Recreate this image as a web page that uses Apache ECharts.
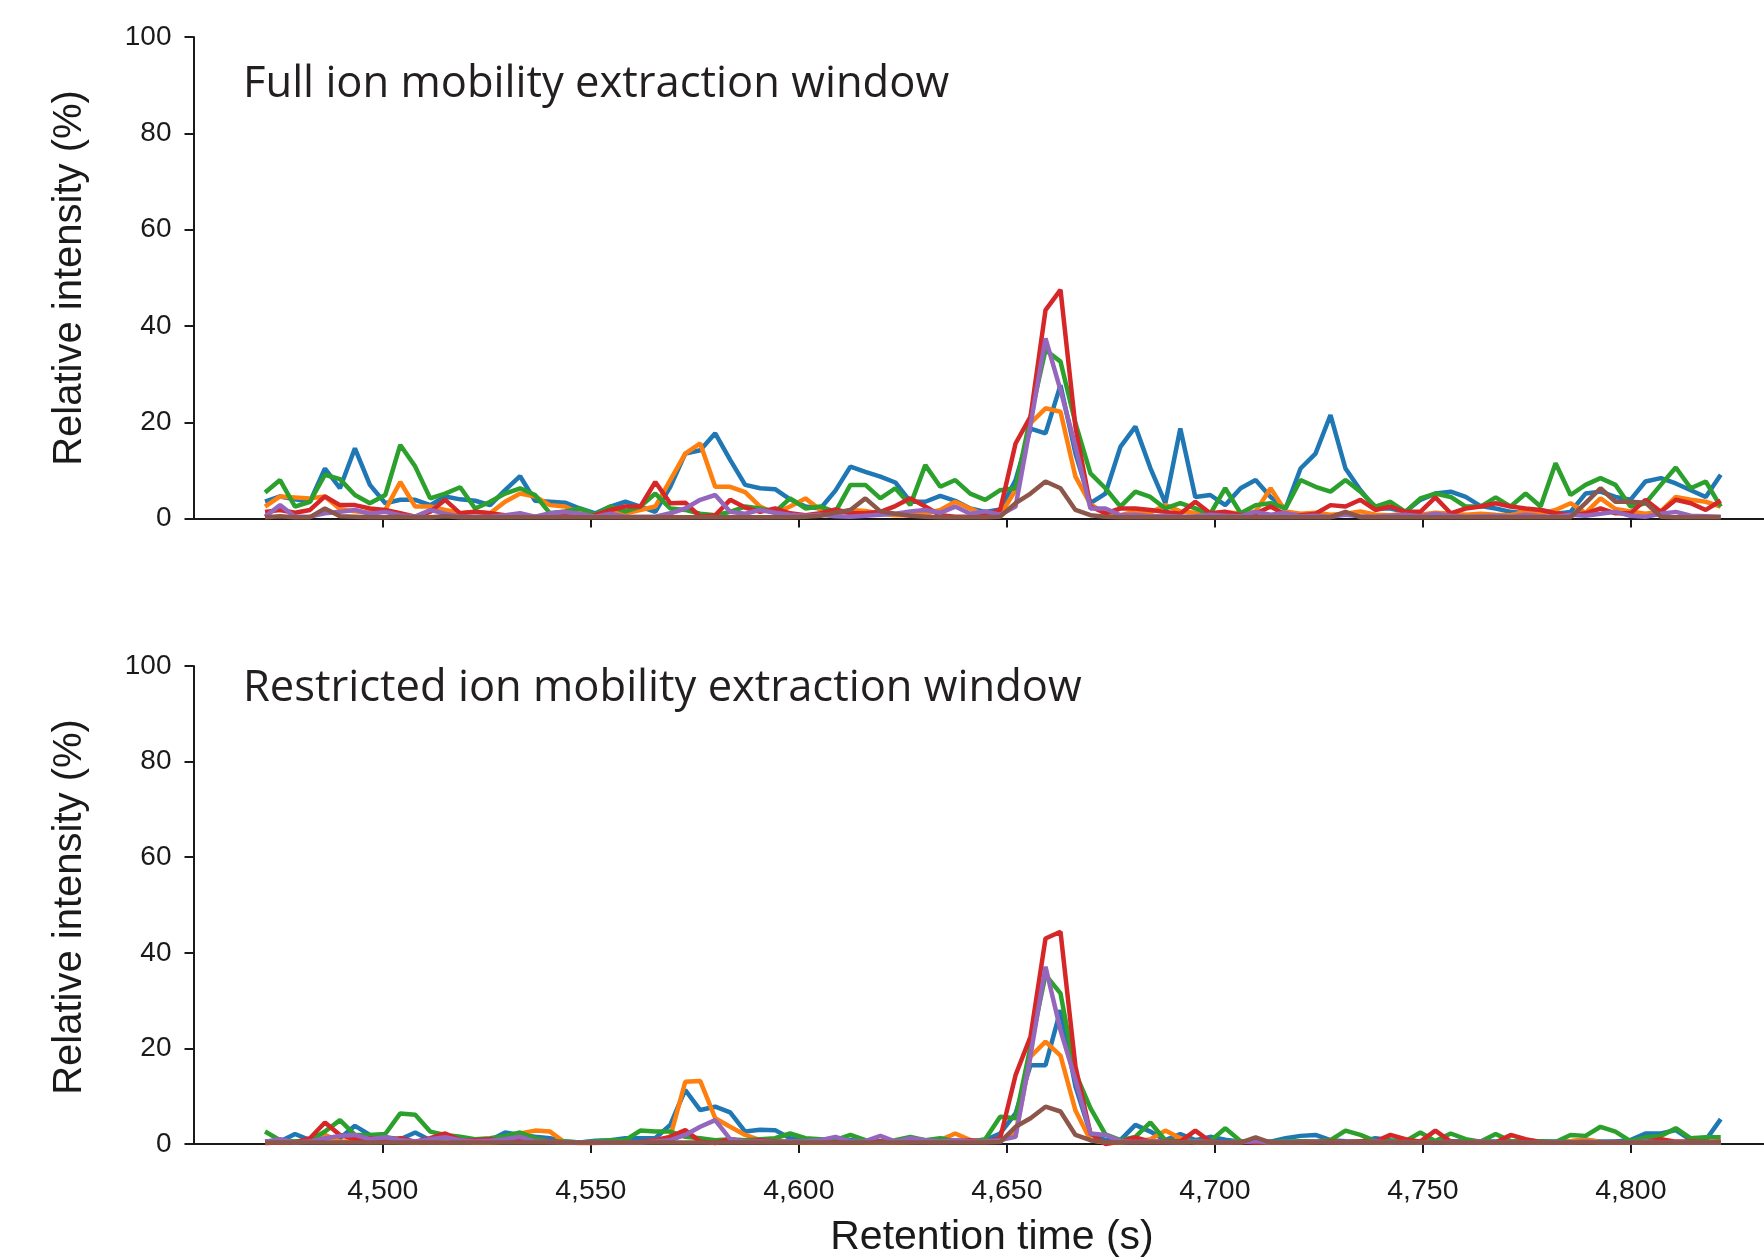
<!DOCTYPE html>
<html>
<head>
	<meta charset="utf-8">
	<title>Extraction window</title>
	<script src="https://cdn.jsdelivr.net/npm/echarts@6/dist/echarts.min.js"></script>
	<style>
		html, body { margin: 0; padding: 0; background: #fff; }
		#main { width: 1764px; height: 1260px; }
	</style>
</head>
<body>
<div id="main"></div>
<script>
// retention time of every scan (s)
var times = [4471.7, 4475.3, 4478.9, 4482.5, 4486.1, 4489.7, 4493.3, 4496.9, 4500.6, 4504.2,
	4507.8, 4511.4, 4515.0, 4518.6, 4522.2, 4525.8, 4529.4, 4533.0, 4536.6, 4540.2,
	4543.8, 4547.4, 4551.1, 4554.7, 4558.3, 4561.9, 4565.5, 4569.1, 4572.7, 4576.3,
	4579.9, 4583.5, 4587.1, 4590.7, 4594.3, 4597.9, 4601.6, 4605.2, 4608.8, 4612.4,
	4616.0, 4619.6, 4623.2, 4626.8, 4630.4, 4634.0, 4637.6, 4641.2, 4644.8, 4648.4,
	4652.1, 4655.7, 4659.3, 4662.9, 4666.5, 4670.1, 4673.7, 4677.3, 4680.9, 4684.5,
	4688.1, 4691.7, 4695.3, 4698.9, 4702.5, 4706.2, 4709.8, 4713.4, 4717.0, 4720.6,
	4724.2, 4727.8, 4731.4, 4735.0, 4738.6, 4742.2, 4745.8, 4749.4, 4753.0, 4756.7,
	4760.3, 4763.9, 4767.5, 4771.1, 4774.7, 4778.3, 4781.9, 4785.5, 4789.1, 4792.7,
	4796.3, 4799.9, 4803.5, 4807.2, 4810.8, 4814.4, 4818.0, 4821.6];

var xTicks = [4500, 4550, 4600, 4650, 4700, 4750, 4800];
var yTicks = [0, 20, 40, 60, 80, 100];
var colors = ['#1f77b4', '#ff7f0e', '#2ca02c', '#d62728', '#9467bd', '#8c564b'];

// full ion mobility extraction window
var fullBlue = [3.5, 4.6, 4.0, 3.5, 10.4, 6.3, 14.6, 7.0, 3.2, 3.9,
	3.9, 2.8, 4.6, 4.0, 3.7, 2.8, 5.9, 8.8, 3.7, 3.5,
	3.3, 2.1, 1.1, 2.5, 3.5, 2.5, 1.4, 6.6, 13.5, 14.2,
	17.7, 12.2, 7.0, 6.3, 6.1, 4.0, 2.5, 2.1, 5.8, 10.8,
	9.7, 8.7, 7.5, 3.5, 3.5, 4.7, 3.7, 2.1, 1.4, 1.9,
	8.0, 18.7, 17.7, 27.7, 13.5, 3.2, 5.2, 14.9, 19.1, 10.5,
	3.2, 18.7, 4.5, 4.9, 2.8, 6.3, 8.0, 4.5, 2.1, 10.4,
	13.5, 21.5, 10.4, 5.9, 2.1, 2.1, 1.4, 3.9, 5.2, 5.6,
	4.5, 2.6, 2.1, 1.4, 1.1, 1.8, 1.0, 1.4, 5.2, 5.6,
	4.5, 3.9, 7.7, 8.4, 7.3, 5.9, 4.5, 9.1];
var fullOrange = [2.5, 4.6, 4.4, 4.2, 4.6, 2.0, 1.5, 1.2, 1.8, 7.6,
	2.5, 2.5, 1.8, 1.1, 1.4, 1.1, 3.5, 5.2, 4.6, 2.8,
	2.5, 1.1, 0.7, 1.4, 1.1, 1.8, 2.5, 8.0, 13.5, 15.6,
	6.6, 6.6, 5.5, 2.5, 1.1, 2.5, 4.2, 1.8, 0.8, 1.8,
	1.6, 1.0, 0.7, 0.7, 1.0, 1.8, 3.5, 2.1, 0.7, 0.7,
	5.9, 19.8, 22.9, 22.2, 8.7, 3.0, 1.0, 0.7, 1.5, 1.2,
	2.8, 1.5, 1.2, 1.0, 1.4, 1.0, 1.5, 6.3, 1.5, 1.0,
	1.2, 0.8, 1.0, 1.5, 0.8, 0.7, 1.0, 0.8, 1.2, 1.0,
	0.8, 1.0, 0.8, 0.7, 1.5, 1.0, 1.8, 3.2, 1.2, 4.2,
	2.0, 1.5, 1.0, 1.5, 4.5, 3.9, 3.5, 2.5];
var fullGreen = [5.4, 8.0, 2.5, 3.5, 9.1, 8.2, 4.9, 3.2, 4.9, 15.3,
	10.8, 4.2, 5.2, 6.5, 2.1, 3.5, 5.2, 6.3, 4.9, 1.1,
	1.5, 2.1, 0.8, 2.5, 1.5, 2.5, 5.2, 2.1, 1.8, 1.0,
	0.7, 1.4, 2.5, 2.1, 1.4, 4.2, 2.1, 2.5, 1.4, 7.0,
	7.0, 4.2, 6.3, 2.8, 11.1, 6.6, 8.0, 5.2, 3.9, 5.9,
	6.3, 21.2, 35.0, 32.6, 19.8, 9.4, 6.3, 2.5, 5.6, 4.5,
	2.1, 3.2, 2.1, 1.0, 6.3, 1.1, 2.8, 3.2, 2.1, 8.0,
	6.6, 5.6, 8.0, 5.6, 2.5, 3.5, 1.4, 4.2, 5.2, 4.5,
	2.5, 2.5, 4.4, 2.5, 5.2, 2.5, 11.5, 4.9, 7.0, 8.4,
	7.0, 2.5, 3.2, 7.0, 10.6, 6.3, 7.7, 2.5];
var fullRed = [1.4, 1.8, 1.2, 1.8, 4.6, 2.8, 2.8, 2.1, 1.8, 1.1,
	0.4, 1.4, 3.9, 1.1, 1.4, 1.1, 0.7, 0.4, 0.4, 0.4,
	0.5, 0.4, 0.7, 1.8, 2.5, 2.5, 7.6, 3.2, 3.3, 0.4,
	0.7, 3.9, 2.3, 1.4, 2.1, 1.1, 0.7, 1.1, 1.9, 1.1,
	1.1, 1.4, 2.6, 4.2, 2.5, 0.7, 0.4, 0.4, 0.7, 1.8,
	15.6, 21.2, 43.3, 47.5, 19.0, 2.5, 1.1, 2.1, 2.1, 1.8,
	1.4, 1.0, 3.5, 1.1, 1.4, 0.7, 1.0, 2.5, 0.8, 0.7,
	1.0, 2.8, 2.5, 3.9, 1.8, 2.5, 1.4, 1.4, 4.4, 1.1,
	2.1, 2.5, 3.2, 2.5, 2.1, 1.8, 1.1, 0.7, 1.1, 2.1,
	1.1, 1.1, 3.9, 1.4, 3.9, 3.2, 1.8, 3.7];
var fullPurple = [0.4, 2.8, 0.4, 0.4, 1.1, 1.4, 1.8, 1.0, 1.4, 0.7,
	0.4, 1.8, 1.0, 0.4, 0.4, 0.4, 0.7, 1.1, 0.4, 1.1,
	1.4, 1.0, 0.4, 1.0, 0.4, 0.4, 0.4, 1.1, 2.1, 3.9,
	4.9, 1.4, 1.0, 1.8, 1.2, 0.8, 0.6, 0.8, 0.5, 0.4,
	0.6, 0.8, 1.0, 1.5, 1.8, 1.2, 2.5, 1.0, 1.5, 0.8,
	2.5, 19.5, 37.4, 26.7, 15.0, 2.1, 2.1, 0.7, 0.8, 0.5,
	0.6, 0.4, 0.5, 0.8, 0.6, 0.5, 1.4, 0.8, 1.2, 0.5,
	0.6, 0.4, 0.8, 0.5, 0.4, 0.6, 0.8, 0.5, 1.0, 0.6,
	0.4, 0.5, 0.6, 0.4, 0.8, 0.5, 0.4, 0.8, 0.6, 1.0,
	1.4, 0.6, 0.4, 1.0, 1.4, 0.6, 0.5, 0.4];
var fullBrown = [0.3, 0.5, 0.3, 0.3, 2.1, 0.5, 0.4, 0.3, 0.3, 0.4,
	0.3, 0.3, 0.5, 0.3, 0.3, 0.3, 0.3, 0.3, 0.3, 0.3,
	0.3, 0.3, 0.3, 0.3, 0.3, 0.3, 0.3, 0.3, 0.3, 0.3,
	0.3, 0.3, 0.3, 0.3, 0.3, 0.3, 0.4, 0.6, 1.2, 1.8,
	4.2, 1.5, 1.0, 0.6, 0.4, 0.3, 0.3, 0.3, 0.3, 0.4,
	3.2, 5.2, 7.7, 6.3, 1.8, 0.7, 0.4, 0.3, 0.3, 0.3,
	0.3, 0.3, 0.3, 0.3, 0.3, 0.3, 0.3, 0.3, 0.3, 0.3,
	0.3, 0.3, 1.4, 0.3, 0.3, 0.3, 0.3, 0.3, 0.3, 0.3,
	0.3, 0.3, 0.3, 0.3, 0.3, 0.3, 0.3, 0.3, 3.2, 6.3,
	3.5, 3.5, 3.3, 0.4, 0.3, 0.3, 0.3, 0.3];

// restricted ion mobility extraction window
var resBlue = [0.5, 0.5, 2.1, 0.8, 1.2, 1.2, 3.8, 1.9, 1.4, 1.0,
	2.4, 0.8, 1.4, 1.2, 0.8, 0.8, 2.4, 1.9, 1.5, 1.2,
	0.5, 0.3, 0.7, 0.8, 1.2, 1.2, 1.2, 4.0, 11.3, 7.1,
	7.8, 6.6, 2.6, 3.0, 2.9, 1.2, 0.9, 0.8, 0.6, 0.8,
	0.7, 0.6, 0.6, 0.8, 0.6, 0.6, 0.8, 0.5, 0.8, 2.2,
	6.4, 16.5, 16.5, 28.0, 12.0, 2.2, 0.8, 0.8, 4.0, 2.6,
	0.8, 2.1, 0.8, 1.5, 0.9, 0.5, 0.5, 0.5, 1.2, 1.7,
	1.9, 0.8, 0.6, 0.5, 1.2, 0.8, 0.5, 0.6, 0.5, 0.6,
	0.5, 0.6, 0.5, 0.5, 0.8, 0.5, 0.5, 0.6, 0.8, 0.5,
	0.5, 0.8, 2.2, 2.2, 2.9, 0.8, 0.8, 5.2];
var resOrange = [0.3, 0.3, 0.5, 0.5, 1.9, 0.5, 0.5, 0.4, 0.5, 0.4,
	0.3, 0.4, 0.3, 0.4, 0.3, 0.3, 0.5, 2.2, 2.8, 2.6,
	0.3, 0.2, 0.2, 0.3, 0.3, 0.3, 0.8, 1.5, 13.0, 13.2,
	5.4, 3.6, 1.9, 0.8, 0.5, 0.4, 0.3, 0.3, 0.3, 0.4,
	0.3, 0.3, 0.3, 0.4, 0.5, 0.8, 2.2, 0.8, 0.5, 0.8,
	2.2, 18.3, 21.4, 18.5, 7.0, 0.8, 0.3, 0.3, 0.5, 1.0,
	2.8, 1.2, 0.3, 0.4, 0.3, 0.5, 0.4, 0.3, 0.4, 0.3,
	0.4, 0.5, 0.3, 0.4, 0.3, 0.3, 0.4, 0.3, 0.5, 0.3,
	0.4, 0.3, 0.3, 0.4, 0.3, 0.3, 0.4, 0.6, 1.0, 0.4,
	0.3, 0.4, 0.3, 0.4, 0.3, 0.3, 0.4, 0.3];
var resGreen = [2.6, 0.8, 0.5, 0.8, 2.6, 5.0, 1.9, 1.9, 2.1, 6.4,
	6.1, 2.6, 1.9, 1.5, 1.0, 1.2, 1.7, 2.4, 1.2, 0.5,
	0.5, 0.3, 0.5, 0.8, 0.8, 2.8, 2.6, 2.6, 1.5, 1.2,
	0.8, 1.0, 0.8, 1.0, 1.2, 2.2, 1.2, 1.0, 0.8, 1.9,
	0.8, 0.6, 0.8, 1.5, 0.8, 1.2, 0.6, 0.5, 1.0, 5.7,
	5.4, 20.4, 35.4, 31.5, 14.8, 7.5, 2.0, 0.8, 1.5, 4.5,
	0.8, 0.6, 0.6, 0.6, 3.3, 0.6, 0.4, 0.4, 0.5, 0.6,
	0.6, 0.8, 2.8, 1.9, 0.6, 0.6, 0.6, 2.4, 0.6, 2.2,
	1.0, 0.5, 2.1, 0.6, 0.6, 0.6, 0.4, 1.9, 1.7, 3.6,
	2.6, 0.6, 1.4, 1.7, 3.3, 1.2, 1.4, 1.4];
var resRed = [0.2, 0.3, 0.3, 1.2, 4.5, 1.9, 1.0, 1.2, 0.8, 1.2,
	0.5, 1.2, 2.2, 0.8, 0.8, 1.0, 0.5, 0.8, 0.5, 0.5,
	0.3, 0.3, 0.3, 0.3, 0.3, 0.4, 0.8, 1.5, 2.9, 0.5,
	0.2, 1.0, 0.5, 0.8, 0.5, 0.5, 0.4, 0.5, 0.3, 0.4,
	0.4, 0.5, 0.3, 0.5, 0.4, 0.3, 0.5, 0.8, 0.4, 1.2,
	14.4, 22.5, 43.0, 44.4, 16.2, 2.2, 0.0, 0.5, 1.4, 0.5,
	0.5, 0.5, 2.8, 0.5, 0.3, 0.4, 0.3, 0.4, 0.3, 0.4,
	0.4, 0.5, 0.4, 0.5, 0.5, 1.9, 1.0, 0.5, 2.8, 0.5,
	0.3, 0.5, 0.3, 1.9, 1.0, 0.4, 0.3, 0.3, 0.4, 0.3,
	0.4, 0.3, 0.5, 1.0, 0.5, 0.5, 0.4, 0.5];
var resPurple = [0.5, 1.0, 0.3, 0.5, 1.2, 1.7, 1.9, 1.0, 1.4, 0.8,
	0.5, 1.0, 1.4, 0.8, 0.5, 0.7, 1.0, 1.5, 0.5, 0.4,
	0.3, 0.3, 0.3, 0.3, 0.3, 0.3, 0.5, 0.8, 1.9, 3.6,
	5.0, 1.0, 0.5, 0.5, 0.4, 0.5, 0.6, 0.8, 1.5, 0.5,
	0.6, 1.7, 0.5, 1.2, 0.8, 0.5, 0.8, 0.6, 0.5, 0.8,
	1.5, 18.6, 37.1, 23.8, 13.4, 2.2, 1.9, 0.6, 0.4, 0.5,
	0.4, 0.3, 0.5, 0.4, 0.3, 0.4, 0.6, 0.3, 0.4, 0.3,
	0.5, 0.3, 0.4, 0.3, 0.5, 0.3, 0.4, 0.3, 0.3, 0.4,
	0.3, 0.5, 0.3, 0.4, 0.3, 0.3, 0.4, 0.3, 0.5, 0.3,
	0.4, 0.3, 0.5, 0.3, 0.4, 0.3, 0.3, 0.3];
var resBrown = [0.3, 0.3, 0.3, 0.3, 0.3, 0.3, 0.3, 0.3, 0.3, 0.3,
	0.3, 0.3, 0.3, 0.3, 0.3, 0.3, 0.3, 0.3, 0.3, 0.3,
	0.3, 0.3, 0.3, 0.3, 0.3, 0.3, 0.3, 0.3, 0.3, 0.3,
	0.3, 0.3, 0.3, 0.3, 0.3, 0.3, 0.3, 0.3, 0.3, 0.3,
	0.3, 0.3, 0.3, 0.3, 0.3, 0.3, 0.3, 0.3, 0.3, 0.4,
	3.6, 5.4, 7.8, 6.8, 1.9, 0.8, 0.4, 0.3, 0.3, 0.3,
	0.3, 0.3, 0.3, 0.3, 0.3, 0.3, 1.4, 0.3, 0.3, 0.3,
	0.3, 0.3, 0.3, 0.3, 0.3, 0.3, 0.3, 0.3, 0.3, 0.3,
	0.3, 0.3, 0.3, 0.3, 0.3, 0.3, 0.3, 0.3, 0.3, 0.3,
	0.3, 0.3, 0.3, 0.3, 0.3, 0.3, 0.3, 0.3];

var panels = [
	[fullBlue, fullOrange, fullGreen, fullRed, fullPurple, fullBrown],
	[resBlue, resOrange, resGreen, resRed, resPurple, resBrown]
];

function pairs(values) {
	var out = [];
	for (var i = 0; i < values.length; i++) {
		out.push([times[i], values[i]]);
	}
	return out;
}

var axisColor = '#1a1a1a';
var tickFont = '"Liberation Sans", Arial, sans-serif';

function xAxisFor(idx, showLabel) {
	return {
		gridIndex: idx,
		type: 'value',
		min: 4454.5,
		max: 4832,
		axisLine: { onZero: false, lineStyle: { color: axisColor, width: 2 } },
		axisTick: { customValues: xTicks, length: 9, lineStyle: { color: axisColor, width: 2 } },
		axisLabel: {
			show: showLabel,
			customValues: xTicks,
			margin: 33,
			fontSize: 28.5,
			fontFamily: tickFont,
			color: axisColor,
			formatter: function (v) { return String(v).replace(/\B(?=(\d{3})+(?!\d))/g, ','); }
		},
		splitLine: { show: false }
	};
}

function yAxisFor(idx) {
	return {
		gridIndex: idx,
		type: 'value',
		min: 0,
		max: 100,
		axisLine: { show: true, lineStyle: { color: axisColor, width: 2 } },
		axisTick: { show: true, customValues: yTicks, length: 9, lineStyle: { color: axisColor, width: 2 } },
		axisLabel: { customValues: yTicks, margin: 22, fontSize: 28, fontFamily: tickFont, color: axisColor },
		splitLine: { show: false }
	};
}

var series = [];
panels.forEach(function (list, p) {
	list.forEach(function (vals, k) {
		series.push({
			type: 'line',
			xAxisIndex: p,
			yAxisIndex: p,
			data: pairs(vals),
			symbol: 'none',
			clip: false,
			lineStyle: { color: colors[k], width: 4.5 },
			z: 2 + k
		});
	});
});

var chart = echarts.init(document.getElementById('main'));
chart.setOption({
	animation: false,
	backgroundColor: '#fff',
	grid: [
		{ left: 193.5, right: 0, top: 37, height: 481.6 },
		{ left: 193.5, right: 0, top: 666, height: 478 }
	],
	xAxis: [xAxisFor(0, false), xAxisFor(1, true)],
	yAxis: [yAxisFor(0), yAxisFor(1)],
	series: series,
	graphic: [
		{ type: 'text', x: 243, y: 85, style: { text: 'Full ion mobility extraction window', font: '43.5px "Open Sans"', fill: '#231f20', verticalAlign: 'middle' } },
		{ type: 'text', x: 243, y: 689, style: { text: 'Restricted ion mobility extraction window', font: '43.5px "Open Sans"', fill: '#231f20', verticalAlign: 'middle' } },
		{ type: 'text', x: 70, y: 278, rotation: Math.PI / 2, style: { text: 'Relative intensity (%)', font: '40px "Liberation Sans"', fill: axisColor, align: 'center', verticalAlign: 'middle' } },
		{ type: 'text', x: 70, y: 907, rotation: Math.PI / 2, style: { text: 'Relative intensity (%)', font: '40px "Liberation Sans"', fill: axisColor, align: 'center', verticalAlign: 'middle' } },
		{ type: 'text', x: 992, y: 1238, style: { text: 'Retention time (s)', font: '41px "Liberation Sans"', fill: axisColor, align: 'center', verticalAlign: 'middle' } }
	]
});
</script>
</body>
</html>
